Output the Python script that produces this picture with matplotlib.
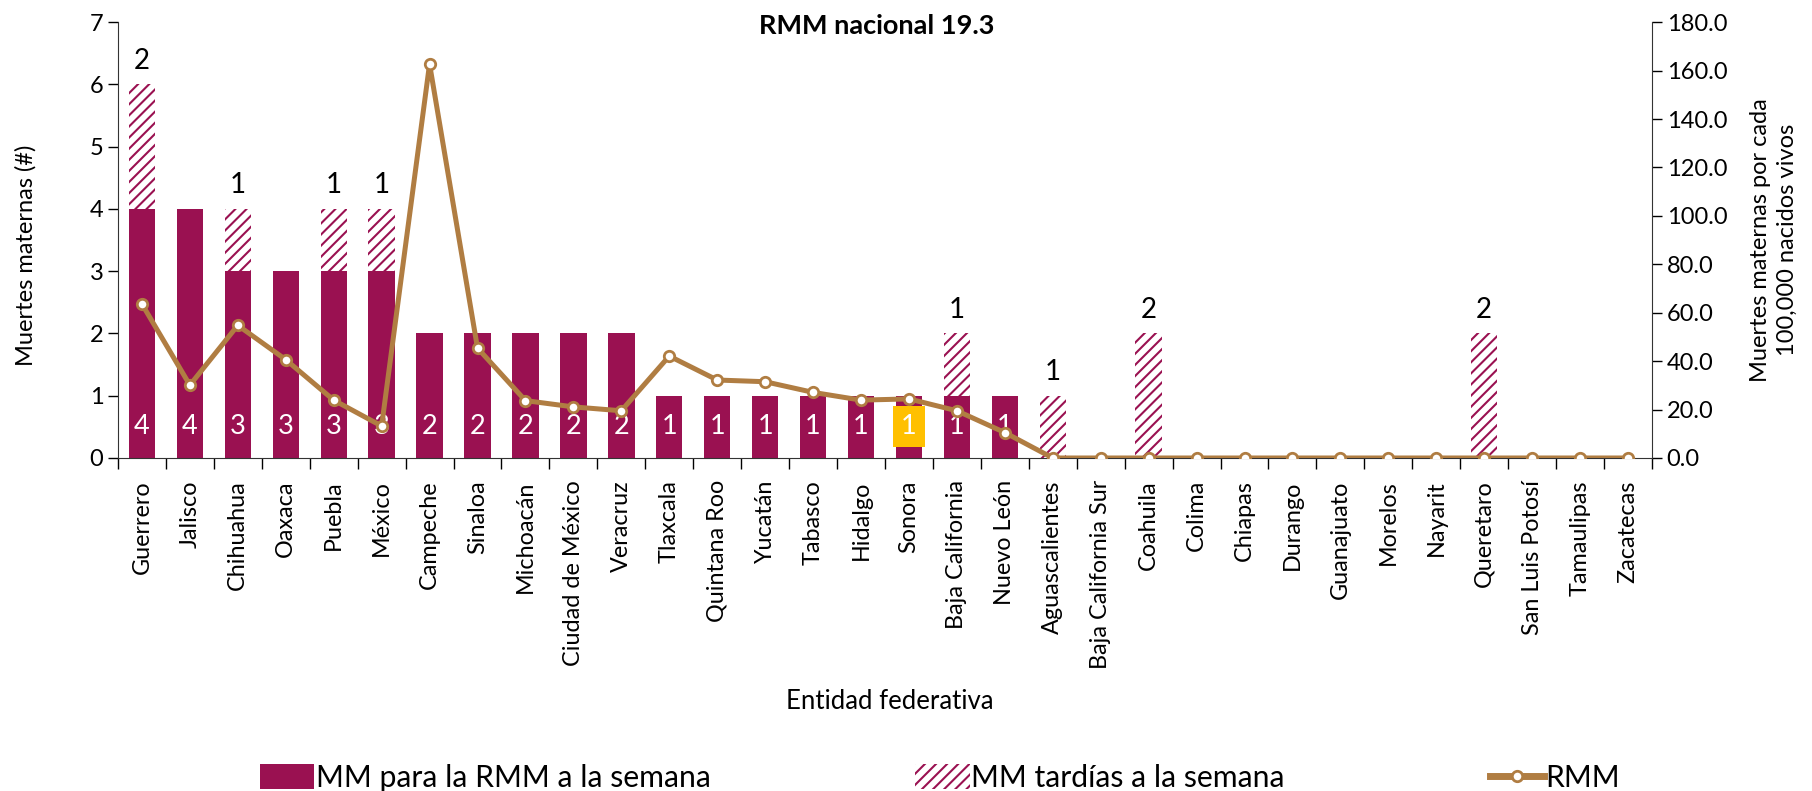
import matplotlib
matplotlib.use('Agg')
import matplotlib.pyplot as plt
from matplotlib.patches import Patch
from matplotlib.lines import Line2D
from matplotlib.ticker import FixedLocator, FormatStrFormatter
import numpy as np

plt.rcParams['font.family'] = ['Lato', 'DejaVu Sans']
plt.rcParams['hatch.linewidth'] = 1.5

estados = ['Guerrero', 'Jalisco', 'Chihuahua', 'Oaxaca', 'Puebla', 'México', 'Campeche',
           'Sinaloa', 'Michoacán', 'Ciudad de México', 'Veracruz', 'Tlaxcala', 'Quintana Roo',
           'Yucatán', 'Tabasco', 'Hidalgo', 'Sonora', 'Baja California', 'Nuevo León',
           'Aguascalientes', 'Baja California Sur', 'Coahuila', 'Colima', 'Chiapas', 'Durango',
           'Guanajuato', 'Morelos', 'Nayarit', 'Queretaro', 'San Luis Potosí', 'Tamaulipas',
           'Zacatecas']
mm_semana = [4, 4, 3, 3, 3, 3, 2, 2, 2, 2, 2, 1, 1, 1, 1, 1, 1, 1, 1,
             0, 0, 0, 0, 0, 0, 0, 0, 0, 0, 0, 0, 0]
mm_tardias = [2, 0, 1, 0, 1, 1, 0, 0, 0, 0, 0, 0, 0, 0, 0, 0, 0, 1, 0,
              1, 0, 2, 0, 0, 0, 0, 0, 0, 2, 0, 0, 0]
rmm = [63.6, 30.1, 54.8, 40.6, 23.9, 13.2, 162.7, 45.4, 23.7, 21.1, 19.5, 42.1, 32.2,
       31.5, 27.1, 23.9, 24.4, 19.5, 10.5, 0, 0, 0, 0, 0, 0, 0, 0, 0, 0, 0, 0, 0]
resaltado = 'Sonora'

purple = '#9A1151'
gold = '#B07D42'
x = np.arange(len(estados))

fig = plt.figure(figsize=(18.12, 7.91), dpi=100)
ax = fig.add_axes([0.0651, 0.421, 0.8466, 0.551])
ax2 = ax.twinx()

ax.bar(x, mm_semana, width=0.55, color=purple, linewidth=0, zorder=2)
ax.bar(x, mm_tardias, width=0.55, bottom=mm_semana, color='white', edgecolor=purple,
       hatch='///', linewidth=0, zorder=2)

for i, (a, b) in enumerate(zip(mm_semana, mm_tardias)):
    if a > 0:
        kw = {}
        if estados[i] == resaltado:
            kw['bbox'] = dict(boxstyle='square,pad=0.3', fc='#FFC000', ec='none')
        ax.text(i, 0.5, str(a), color='white', fontsize=19.5, ha='center', va='center',
                zorder=3, **kw)
    if b > 0:
        ax.annotate(str(b), (i, a + b), xytext=(0, 17), textcoords='offset points',
                    ha='center', va='center', fontsize=20, color='black')

ax2.plot(x, rmm, color=gold, lw=3.6, marker='o', ms=7.5, mfc='white', mec=gold, mew=2,
         zorder=4)

ax.set_xlim(-0.5, len(estados) - 0.5)
ax.set_ylim(0, 7)
ax2.set_ylim(0, 180)
ax2.yaxis.set_major_locator(FixedLocator(np.arange(0, 181, 20)))
ax2.yaxis.set_major_formatter(FormatStrFormatter('%.1f'))

ax.set_xticks(x)
ax.set_xticklabels(estados, rotation=90, fontsize=16.8)
ax.xaxis.set_minor_locator(FixedLocator(np.arange(-0.5, len(estados), 1)))
ax.tick_params(axis='x', which='major', length=0, pad=16)
ax.tick_params(axis='x', which='minor', length=8, width=1, direction='out')
ax.tick_params(axis='y', labelsize=17, length=7, width=1, direction='out')
ax2.tick_params(axis='y', labelsize=17, length=7, width=1, direction='out')

for s in ['top', 'right']:
    ax.spines[s].set_visible(False)
for s in ['top', 'left', 'bottom']:
    ax2.spines[s].set_visible(False)
ax.spines['left'].set_color('#333333')
ax.spines['bottom'].set_color('#333333')
ax2.spines['right'].set_color('#333333')

ax.set_ylabel('Muertes maternas (#)', fontsize=17)
ax.yaxis.set_label_coords(-0.053, 0.466)
ax2.set_ylabel('Muertes maternas por cada\n100,000 nacidos vivos', fontsize=17,
               linespacing=1.35)
ax2.yaxis.set_label_coords(1.064, 0.5)
ax.set_xlabel('Entidad federativa', fontsize=18.5)
ax.xaxis.set_label_coords((890 - 118) / 1534, -0.531)

fig.text(0.484, 0.967, 'RMM nacional 19.3', fontsize=19.5, fontweight='bold',
         ha='center', va='center')

handles = [Patch(facecolor=purple, edgecolor='none'),
           Patch(facecolor='white', edgecolor=purple, hatch='///', linewidth=0),
           Line2D([], [], color=gold, lw=5, marker='o', ms=7.5, mfc='white', mec=gold, mew=2)]
labels = ['MM para la RMM a la semana', 'MM tardías a la semana', 'RMM']
fig.legend(handles, labels, loc='center', bbox_to_anchor=(940 / 1812, 1 - 778 / 791),
           ncol=3, frameon=False, fontsize=21.7, handlelength=1.8, handleheight=0.9,
           handletextpad=0.05, columnspacing=6.8)

fig.savefig('out.png', dpi=100)
